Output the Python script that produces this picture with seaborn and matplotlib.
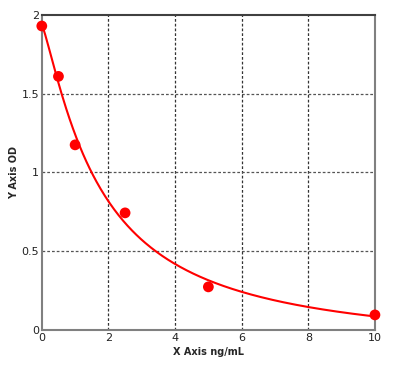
import numpy as np
import pandas as pd
import seaborn as sns
import matplotlib
matplotlib.use("Agg")
import matplotlib.pyplot as plt

# standards
conc = [0, 0.5, 1, 2.5, 5, 10]
od = [1.93, 1.61, 1.175, 0.743, 0.273, 0.095]

df = pd.DataFrame({"conc": conc, "od": od})

# 4PL fit: grid over slope/ec50, top & bottom by least squares
x = np.array(conc, dtype=float)
y = np.array(od, dtype=float)
best = None
for b in np.linspace(0.8, 3.0, 111):
    for c in np.linspace(0.5, 6.0, 221):
        g = 1.0 / (1.0 + (x / c) ** b)
        A = np.column_stack([g, 1 - g])
        coef, *_ = np.linalg.lstsq(A, y, rcond=None)
        err = np.sum((A @ coef - y) ** 2)
        if best is None or err < best[0]:
            best = (err, b, c, coef)
_, b, c, (top, bottom) = best
xf = np.linspace(0, 10, 300)
yf = bottom + (top - bottom) / (1 + (xf / c) ** b)
fit = pd.DataFrame({"conc": xf, "od": yf})

sns.set_style("white")
plt.rcParams["font.family"] = ["DejaVu Sans"]

fig, ax = plt.subplots(figsize=(4.18, 3.84), dpi=100)
fig.subplots_adjust(left=0.1, right=0.897, top=0.961, bottom=0.141)

sns.lineplot(data=fit, x="conc", y="od", ax=ax, color="red", linewidth=1.5)
sns.scatterplot(data=df, x="conc", y="od", ax=ax, color="red", s=60,
                edgecolor="none", zorder=5, clip_on=False)

ax.set_xlim(0, 10)
ax.set_ylim(0, 2)
ax.set_xticks([0, 2, 4, 6, 8, 10])
ax.set_yticks([0, 0.5, 1, 1.5, 2])
ax.set_xticklabels(["0", "2", "4", "6", "8", "10"])
ax.set_yticklabels(["0", "0.5", "1", "1.5", "2"])
ax.tick_params(axis="both", length=0, pad=2, labelsize=8, colors="#222222")

for v in [2, 4, 6, 8]:
    ax.axvline(v, color="#333333", linestyle=(0, (2.2, 1.6)), linewidth=0.9, zorder=1)
for v in [0.5, 1, 1.5]:
    ax.axhline(v, color="#555555", linestyle=(0, (2.2, 1.6)), linewidth=0.9, zorder=1)

for s in ax.spines.values():
    s.set_color("#808080")
    s.set_linewidth(1.5)
    s.set_visible(True)
ax.spines["top"].set_color("#404040")

ax.set_xlabel("X Axis ng/mL", fontsize=7, fontweight="bold", labelpad=3)
ax.set_ylabel("Y Axis OD", fontsize=7, fontweight="bold", labelpad=2)

fig.savefig("out.png", dpi=100, facecolor="white")
